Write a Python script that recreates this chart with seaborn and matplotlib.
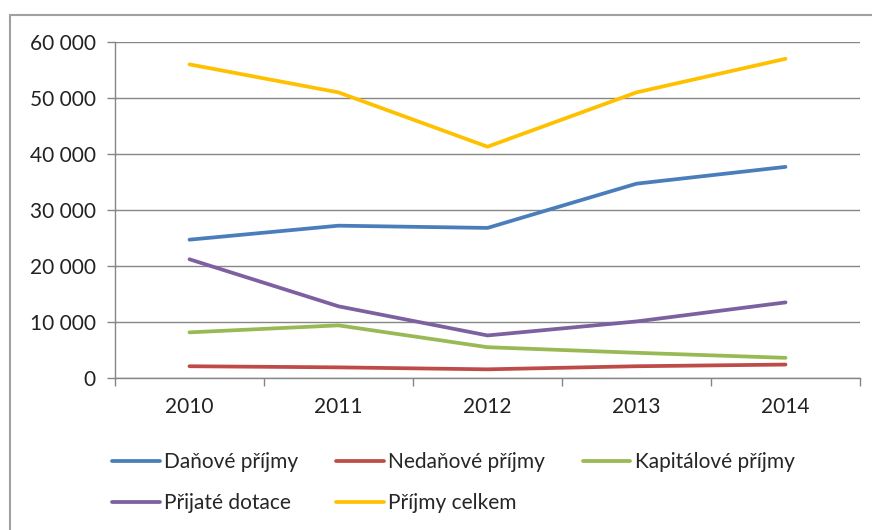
import matplotlib.pyplot as plt
import seaborn as sns
import pandas as pd
from matplotlib.lines import Line2D
from matplotlib.ticker import FuncFormatter

years = ['2010', '2011', '2012', '2013', '2014']
danove = [24700, 27200, 26800, 34700, 37700]
nedanove = [2100, 1900, 1550, 2100, 2400]
kapitalove = [8150, 9400, 5500, 4500, 3600]
dotace = [21200, 12800, 7600, 10100, 13500]
celkem = [56000, 51000, 41300, 51000, 57000]

series_names = ['Daňové příjmy', 'Nedaňové příjmy', 'Kapitálové příjmy',
                'Přijaté dotace', 'Příjmy celkem']
colors = ['#4A7EBB', '#BE4B48', '#98B954', '#7D60A0', '#FFC000']

df = pd.DataFrame({
    'x': list(range(len(years))) * 5,
    'value': danove + nedanove + kapitalove + dotace + celkem,
    'serie': [n for n in series_names for _ in years],
})

sns.set_style('white')
plt.rcParams['font.family'] = ['Lato', 'DejaVu Sans']

fig = plt.figure(figsize=(8.72, 5.30), dpi=100)
ax = fig.add_axes([115 / 872, 1 - 378 / 530, (860 - 115) / 872, (378 - 42) / 530])

sns.lineplot(data=df, x='x', y='value', hue='serie', palette=colors,
             hue_order=series_names, linewidth=2.7, ax=ax, legend=False)

ax.set_xlim(-0.5, 4.5)
ax.set_ylim(0, 60000)
ax.set_yticks(range(0, 60001, 10000))
ax.yaxis.set_major_formatter(FuncFormatter(lambda v, p: f'{int(v):,}'.replace(',', ' ')))
ax.set_xticks([i - 0.5 for i in range(6)])
ax.set_xticklabels([])
ax.set_xticks(range(5), minor=True)
ax.set_xticklabels(years, minor=True)
ax.tick_params(axis='x', which='minor', length=0, pad=14, labelsize=15, colors='#222222')
ax.tick_params(axis='x', which='major', length=6, width=1, color='#868686', direction='out', bottom=True)
ax.tick_params(axis='y', length=6, width=1, color='#868686', direction='out', left=True,
               labelsize=15, labelcolor='#222222', pad=8)
ax.set_xlabel('')
ax.set_ylabel('')
ax.grid(axis='y', color='#868686', linewidth=1)
ax.set_axisbelow(True)
for s in ['top', 'right']:
    ax.spines[s].set_visible(False)
for s in ['left', 'bottom']:
    ax.spines[s].set_color('#868686')
    ax.spines[s].set_linewidth(1)

# legenda se plní po sloupcích, proto přeházené pořadí
order = [0, 3, 1, 4, 2]
handles = [Line2D([], [], color=colors[i], linewidth=2.7) for i in order]
labels = [series_names[i] for i in order]
fig.legend(handles, labels, ncol=3, loc='upper left',
           bbox_to_anchor=(104 / 872, 1 - 444 / 530), frameon=False,
           fontsize=15, handlelength=2.3, handletextpad=0.2,
           columnspacing=1.8, labelspacing=1.0, borderaxespad=0)

# vnější rámeček grafu
fig.add_artist(Line2D([10 / 872, 10 / 872], [0, 1 - 15 / 530], transform=fig.transFigure,
                      color='#A0A0A0', linewidth=1.5))
fig.add_artist(Line2D([10 / 872, 1], [1 - 15 / 530, 1 - 15 / 530], transform=fig.transFigure,
                      color='#A0A0A0', linewidth=1.5))

fig.savefig('out.png', dpi=100)
